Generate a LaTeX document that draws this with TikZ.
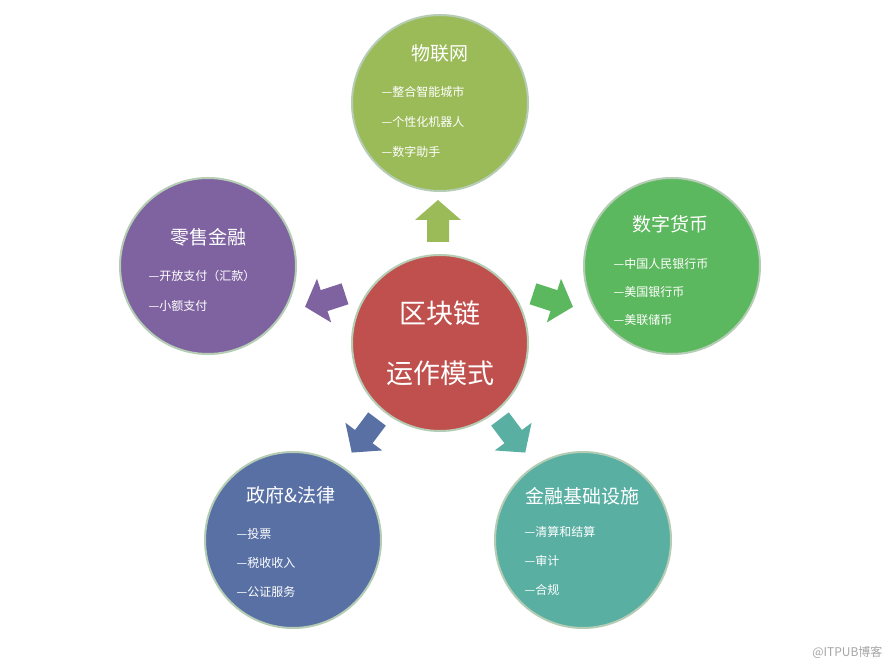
\documentclass[tikz,border=0pt]{standalone}
\usepackage{fontspec}
\setmainfont{Noto Sans CJK SC}
\begin{document}
\begin{tikzpicture}[x=1pt,y=1pt,
  circ/.style={circle,minimum size=176pt,draw=white!85!green!60!gray,line width=2pt,inner sep=0pt},
  ttl/.style={font=\fontsize{19}{22}\selectfont,text=white},
  itm/.style={font=\fontsize{12}{14}\selectfont,text=white,anchor=west,align=left}]
\definecolor{cRed}{HTML}{C0504D}\definecolor{cGreen}{HTML}{9BBB59}
\definecolor{cGreen2}{HTML}{5CB85E}\definecolor{cPurple}{HTML}{7F63A1}
\definecolor{cBlue}{HTML}{5870A4}\definecolor{cTeal}{HTML}{5AAFA3}
\useasboundingbox (0,0) rectangle (889,667);
\fill[white] (0,0) rectangle (889,667);
\newcommand{\blockarrow}[4]{%
 \begin{scope}[shift={(#1,#2)},rotate=#3]
  \fill[#4] (-20,-11)--(2,-11)--(2,-23)--(22,0)--(2,23)--(2,11)--(-20,11)--cycle;
 \end{scope}}
\blockarrow{438}{445}{90}{cGreen}
\blockarrow{552}{367}{-18}{cGreen2}
\blockarrow{326}{367}{198}{cPurple}
\blockarrow{365}{232}{233}{cBlue}
\blockarrow{512}{232}{307}{cTeal}
\node[circ,fill=cRed] (c) at (440,324) {};
\node[font=\fontsize{27}{30}\selectfont,text=white] (c1) at (440,354) {区块链};
\node[font=\fontsize{27}{30}\selectfont,text=white] (c2) at (440,294) {运作模式};
% top
\node[circ,fill=cGreen] (t) at (440,564) {};
\node[ttl] (tt) at (440,614) {物联网};
\node[itm] (t1) at (378,575) {—整合智能城市};
\node[itm] (t2) at (378,545) {—个性化机器人};
\node[itm] (t3) at (378,515) {—数字助手};
% right
\node[circ,fill=cGreen2] (r) at (672,401) {};
\node[ttl] (rt) at (670,443) {数字货币};
\node[itm] (r1) at (610,403) {—中国人民银行币};
\node[itm] (r2) at (610,375) {—美国银行币};
\node[itm] (r3) at (610,347) {—美联储币};
% left
\node[circ,fill=cPurple] (l) at (208,401) {};
\node[ttl] (lt) at (208,430) {零售金融};
\node[itm] (l1) at (145,391) {—开放支付（汇款）};
\node[itm] (l2) at (145,361) {—小额支付};
% bottom left
\node[circ,fill=cBlue] (bl) at (293,127) {};
\node[ttl] (blt) at (291,172) {政府\&法律};
\node[itm] (bl1) at (233,133) {—投票};
\node[itm] (bl2) at (233,104) {—税收收入};
\node[itm] (bl3) at (233,75) {—公证服务};
% bottom right
\node[circ,fill=cTeal] (br) at (583,127) {};
\node[ttl] (brt) at (582,171) {金融基础设施};
\node[itm] (br1) at (521,135) {—清算和结算};
\node[itm] (br2) at (521,106) {—审计};
\node[itm] (br3) at (521,77) {—合规};
\node[font=\fontsize{12}{14}\selectfont,text=gray!70,anchor=east] (wm) at (886,15) {@ITPUB博客};
\end{tikzpicture}
\end{document}
